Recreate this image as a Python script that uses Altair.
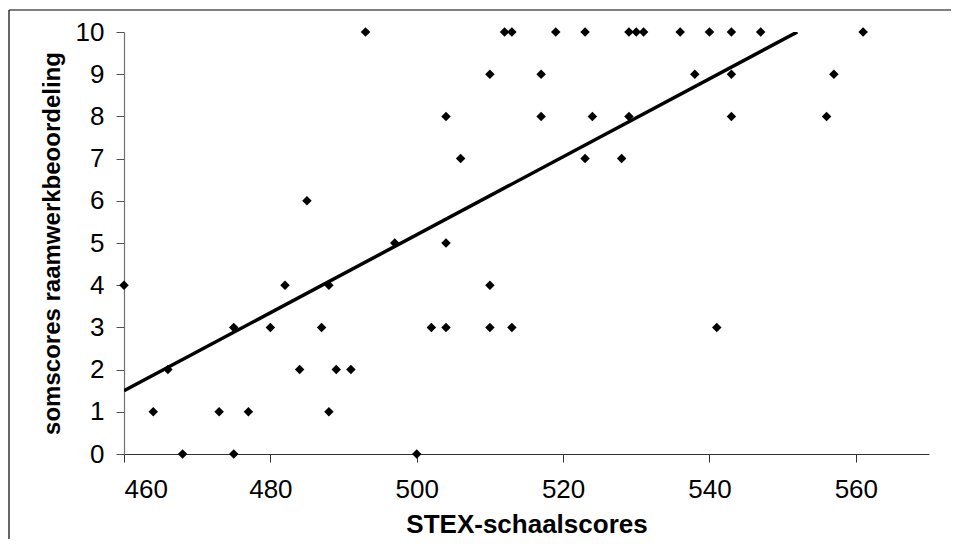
import altair as alt
import pandas as pd

# STEX-schaalscores (x) and somscores raamwerkbeoordeling (y)
stex = [493, 512, 513, 519, 523, 529, 530, 531, 536, 540, 543, 547, 561,
        510, 517, 538, 543, 557,
        504, 517, 524, 529, 543, 556,
        506, 523, 528,
        485,
        497, 504,
        460, 482, 488, 510,
        475, 480, 487, 502, 504, 510, 513, 541,
        466, 484, 489, 491,
        464, 473, 477, 488,
        468, 475, 500]
somscores = [10, 10, 10, 10, 10, 10, 10, 10, 10, 10, 10, 10, 10,
             9, 9, 9, 9, 9,
             8, 8, 8, 8, 8, 8,
             7, 7, 7,
             6,
             5, 5,
             4, 4, 4, 4,
             3, 3, 3, 3, 3, 3, 3, 3,
             2, 2, 2, 2,
             1, 1, 1, 1,
             0, 0, 0]

# linear trend line, end points
trend_x = [460, 552]
trend_y = [1.5, 10.0]

x_ticks = [460, 480, 500, 520, 540, 560]
y_ticks = [0, 1, 2, 3, 4, 5, 6, 7, 8, 9, 10]

W, H = 805, 422
FONT = "Liberation Sans"

pts = pd.DataFrame({"x": stex, "y": somscores})
trend = pd.DataFrame({"x": trend_x, "y": trend_y})
one = pd.DataFrame({"a": [0]})

xscale = alt.Scale(domain=[460, 570], nice=False, zero=False)
yscale = alt.Scale(domain=[0, 10], nice=False, zero=True)

xaxis = alt.Axis(
    title="STEX-schaalscores", values=x_ticks, grid=False,
    domainColor="#303030", tickColor="#303030", tickSize=8, domainWidth=1.2,
    labelFont=FONT, labelFontSize=26, labelColor="black", labelPadding=14,
    titleFont=FONT, titleFontSize=26, titleFontWeight="bold", titleColor="black",
    titleX=W / 2, titleY=70, titleAlign="center", titleBaseline="middle",
)
yaxis = alt.Axis(
    title="somscores raamwerkbeoordeling", values=y_ticks, grid=False,
    domainColor="#707070", tickColor="#505050", tickSize=8, domainWidth=1.2,
    labelFont=FONT, labelFontSize=26, labelColor="black", labelPadding=12,
    titleFont=FONT, titleFontSize=24, titleFontWeight="bold", titleColor="black",
    titleAngle=270, titleX=-72, titleY=H / 2, titleAlign="center",
    titleBaseline="middle",
)

points = alt.Chart(pts).mark_point(
    shape="diamond", filled=True, size=90, color="black", opacity=1
).encode(
    x=alt.X("x:Q", scale=xscale, axis=xaxis),
    y=alt.Y("y:Q", scale=yscale, axis=yaxis),
)

line = alt.Chart(trend).mark_line(color="black", strokeWidth=3.5, clip=True).encode(
    x=alt.X("x:Q", scale=xscale),
    y=alt.Y("y:Q", scale=yscale),
)

frame_top = alt.Chart(one).mark_rule(color="black", strokeWidth=1.2).encode(
    x=alt.value(-115), x2=alt.value(840), y=alt.value(-22)
)
frame_left = alt.Chart(one).mark_rule(color="black", strokeWidth=1.2).encode(
    x=alt.value(-115), y=alt.value(-22), y2=alt.value(520)
)

chart = alt.layer(frame_top, frame_left, line, points).properties(
    width=W, height=H,
    autosize=alt.AutoSizeParams(type="none"),
    padding={"left": 116, "top": 24, "right": 22, "bottom": 85},
    background="white",
).configure_view(strokeWidth=0)

chart.save("out.html", embed_options={"renderer": "svg", "actions": False})
